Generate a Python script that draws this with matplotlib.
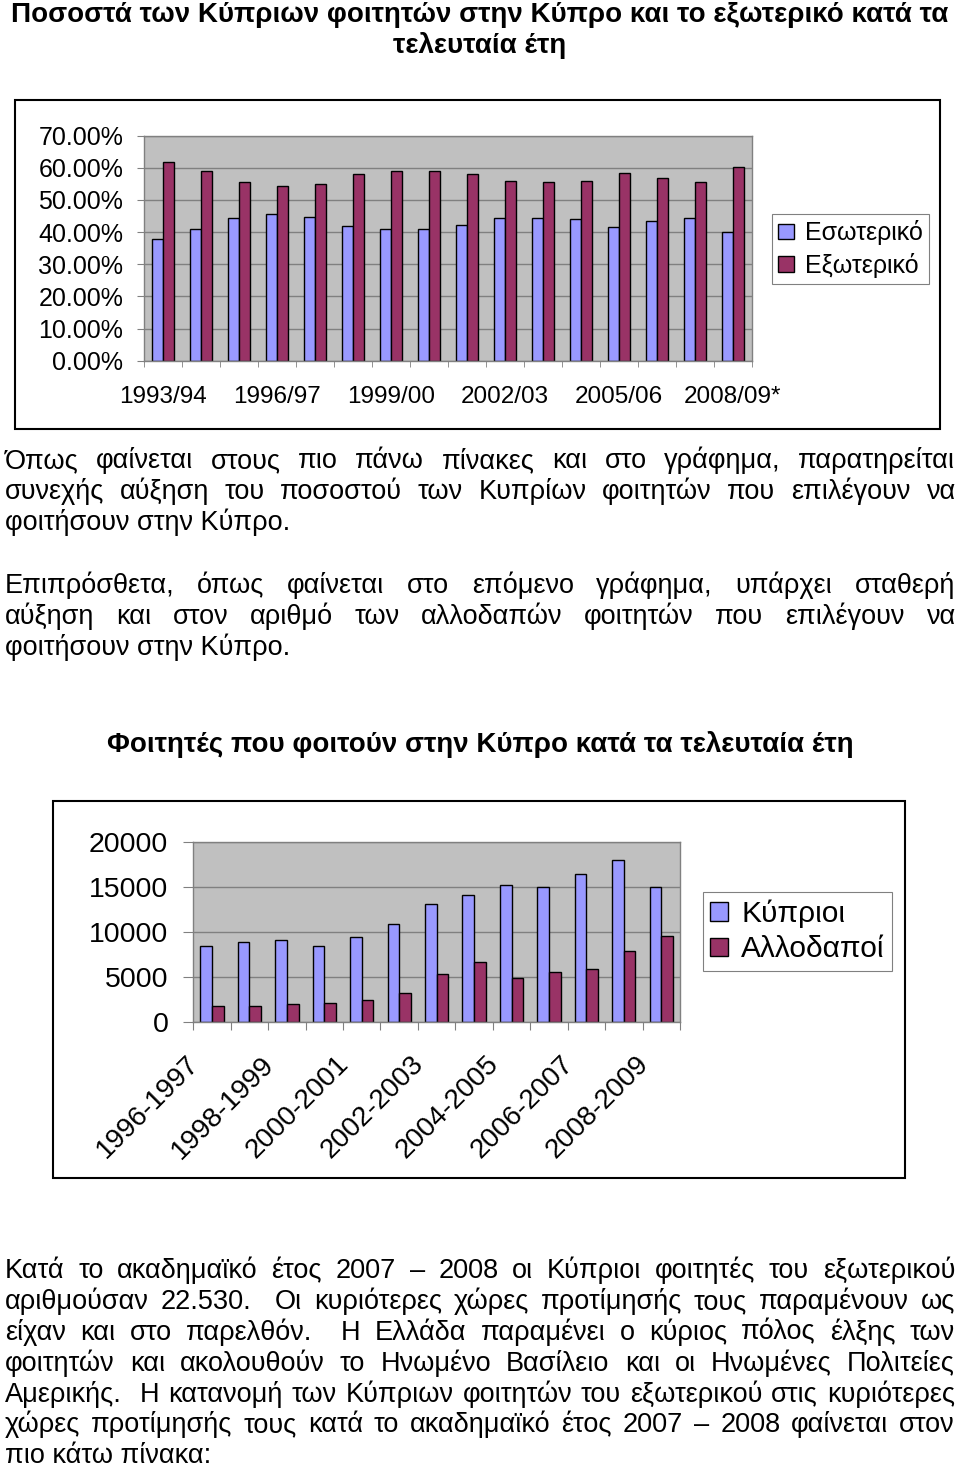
import numpy as np
import matplotlib
matplotlib.use('Agg')
import matplotlib.pyplot as plt
from matplotlib.patches import Rectangle
from matplotlib.ticker import PercentFormatter, MultipleLocator
from matplotlib.transforms import ScaledTranslation

plt.rcParams['font.family'] = ['Liberation Sans', 'DejaVu Sans']

W, H = 960, 1471

# chart 1: share of Cypriot students studying in Cyprus / abroad (%)
years_pct = ['1993/94', '1994/95', '1995/96', '1996/97', '1997/98', '1998/99',
             '1999/00', '2000/01', '2001/02', '2002/03', '2003/04', '2004/05',
             '2005/06', '2006/07', '2007/08', '2008/09*']
domestic = [38.0, 41.0, 44.4, 45.6, 44.8, 41.9, 41.0, 41.0,
            42.3, 44.4, 44.4, 44.0, 41.5, 43.6, 44.4, 40.0]
abroad = [61.9, 58.9, 55.6, 54.2, 55.1, 58.1, 58.9, 58.9,
          58.1, 56.0, 55.6, 56.0, 58.5, 56.7, 55.6, 60.3]

# chart 2: students studying in Cyprus
years_stud = ['1996-1997', '1997-1998', '1998-1999', '1999-2000', '2000-2001',
              '2001-2002', '2002-2003', '2003-2004', '2004-2005', '2005-2006',
              '2006-2007', '2007-2008', '2008-2009']
cypriots = [8450, 8930, 9080, 8450, 9480, 10850, 13100, 14100,
            15170, 15020, 16380, 17930, 15020]
foreigners = [1810, 1810, 1990, 2180, 2510, 3210, 5310, 6640,
              4910, 5610, 5940, 7900, 9590]

title1 = ['Ποσοστά των Κύπριων φοιτητών στην Κύπρο και το εξωτερικό κατά τα',
          'τελευταία έτη']
title2 = 'Φοιτητές που φοιτούν στην Κύπρο κατά τα τελευταία έτη'

para1 = ['Όπως φαίνεται στους πιο πάνω πίνακες και στο γράφημα, παρατηρείται',
         'συνεχής αύξηση του ποσοστού των Κυπρίων φοιτητών που επιλέγουν να',
         'φοιτήσουν στην Κύπρο.']
para2 = ['Επιπρόσθετα, όπως φαίνεται στο επόμενο γράφημα, υπάρχει σταθερή',
         'αύξηση και στον αριθμό των αλλοδαπών φοιτητών που επιλέγουν να',
         'φοιτήσουν στην Κύπρο.']
para3 = ['Κατά το ακαδημαϊκό έτος 2007 – 2008 οι Κύπριοι φοιτητές του εξωτερικού',
         'αριθμούσαν 22.530.  Οι κυριότερες χώρες προτίμησής τους παραμένουν ως',
         'είχαν και στο παρελθόν.  Η Ελλάδα παραμένει ο κύριος πόλος έλξης των',
         'φοιτητών και ακολουθούν το Ηνωμένο Βασίλειο και οι Ηνωμένες Πολιτείες',
         'Αμερικής.  Η κατανομή των Κύπριων φοιτητών του εξωτερικού στις κυριότερες',
         'χώρες προτίμησής τους κατά το ακαδημαϊκό έτος 2007 – 2008 φαίνεται στον',
         'πιο κάτω πίνακα:']

BLUE = '#9999FF'
PLUM = '#993366'
PLOT_BG = '#C0C0C0'
GRID = '#808080'

fig = plt.figure(figsize=(W / 100, H / 100), dpi=100)
page = fig.add_axes([0, 0, 1, 1])
page.set_xlim(0, W)
page.set_ylim(H, 0)
page.axis('off')
renderer = fig.canvas.get_renderer()


def text_width(s, size, weight='normal'):
    t = page.text(0, 0, s, fontsize=size, fontweight=weight)
    w = t.get_window_extent(renderer).width
    t.remove()
    return w


def fit_size(s, target, weight='normal'):
    return 16 * target / text_width(s, 16, weight)


body = fit_size('φοιτήσουν στην Κύπρο.', 285)
longest = max(para1 + para2 + para3, key=lambda s: text_width(s, body))
body = min(body, body * 948 / text_width(longest, body))


def paragraph(lines, y0, step=31.2, x0=5, x1=955):
    for k, line in enumerate(lines):
        y = y0 + k * step
        if k == len(lines) - 1:
            page.text(x0, y, line, fontsize=body, va='baseline')
            continue
        words = line.split(' ')
        widths = [text_width(w, body) if w else 0 for w in words]
        gap = (x1 - x0 - sum(widths)) / (len(words) - 1)
        x = x0
        for w, wd in zip(words, widths):
            if w:
                page.text(x, y, w, fontsize=body, va='baseline')
            x += wd + gap


tsize = fit_size(title1[0], 935, 'bold')
page.text(W / 2, 22, title1[0], fontsize=tsize, fontweight='bold', ha='center', va='baseline')
page.text(W / 2, 53, title1[1], fontsize=tsize, fontweight='bold', ha='center', va='baseline')
page.text(W / 2, 752, title2, fontsize=fit_size(title2, 744, 'bold'),
          fontweight='bold', ha='center', va='baseline')

paragraph(para1, 468)
paragraph(para2, 593)
paragraph(para3, 1278, step=30.9)

page.add_patch(Rectangle((15, 100), 925, 329, fill=False, ec='black', lw=1.5))
page.add_patch(Rectangle((53, 801), 852, 377, fill=False, ec='black', lw=1.5))


def px_axes(l, t, r, b):
    return fig.add_axes([l / W, 1 - b / H, (r - l) / W, (b - t) / H])


def style(ax):
    ax.set_facecolor(PLOT_BG)
    ax.grid(axis='y', color=GRID, lw=1)
    ax.set_axisbelow(True)
    for s in ax.spines.values():
        s.set_color(GRID)
        s.set_linewidth(1)


# ---- chart 1
ax1 = px_axes(144, 135.7, 751.7, 360.7)
x1 = np.arange(len(years_pct))
bw = 0.29
ax1.bar(x1 - bw / 2, domestic, bw, color=BLUE, edgecolor='black', lw=1, label='Εσωτερικό')
ax1.bar(x1 + bw / 2, abroad, bw, color=PLUM, edgecolor='black', lw=1, label='Εξωτερικό')
style(ax1)
ax1.set_xlim(-0.5, len(x1) - 0.5)
ax1.set_ylim(0, 70)
ax1.yaxis.set_major_locator(MultipleLocator(10))
ax1.yaxis.set_major_formatter(PercentFormatter(decimals=2))
ax1.tick_params(axis='y', length=5, color=GRID, labelsize=18, pad=10)
ax1.set_xticks(x1[::3], [years_pct[i] for i in x1[::3]])
ax1.set_xticks(np.arange(-0.5, len(x1)), minor=True)
ax1.tick_params(axis='x', which='major', length=0, labelsize=17.5, pad=18.5)
ax1.tick_params(axis='x', which='minor', length=4.5, color=GRID)
leg1 = ax1.legend(loc='upper left', bbox_to_anchor=(772 / W, 1 - 214 / H),
                  bbox_transform=fig.transFigure, fontsize=18, fancybox=False,
                  edgecolor=GRID, framealpha=1, borderpad=0.25, handlelength=0.62,
                  handleheight=0.58, handletextpad=0.45, labelspacing=0.3,
                  borderaxespad=0)
leg1.get_frame().set_linewidth(0.8)

# ---- chart 2
ax2 = px_axes(193.3, 841.7, 680, 1022.3)
x2 = np.arange(len(years_stud))
bw = 0.31
ax2.bar(x2 - bw / 2, cypriots, bw, color=BLUE, edgecolor='black', lw=1, label='Κύπριοι')
ax2.bar(x2 + bw / 2, foreigners, bw, color=PLUM, edgecolor='black', lw=1, label='Αλλοδαποί')
style(ax2)
ax2.set_xlim(-0.5, len(x2) - 0.5)
ax2.set_ylim(0, 20000)
ax2.yaxis.set_major_locator(MultipleLocator(5000))
ax2.tick_params(axis='y', length=7, color=GRID, labelsize=20.5, pad=11)
ax2.set_xticks(np.arange(-0.5, len(x2)))
ax2.set_xticklabels([])
ax2.tick_params(axis='x', length=5.5, color=GRID)
off = ScaledTranslation(-26 / 100, -29 / 100, fig.dpi_scale_trans)
for i in x2[::2]:
    ax2.text(i, 0, years_stud[i], transform=ax2.get_xaxis_transform() + off,
             rotation=45, rotation_mode='anchor', ha='right', va='top', fontsize=20)
leg2 = ax2.legend(loc='upper left', bbox_to_anchor=(703 / W, 1 - 892 / H),
                  bbox_transform=fig.transFigure, fontsize=21.5, fancybox=False,
                  edgecolor=GRID, framealpha=1, borderpad=0.25, handlelength=0.58,
                  handleheight=0.58, handletextpad=0.45, labelspacing=0.25,
                  borderaxespad=0)
leg2.get_frame().set_linewidth(0.8)

fig.savefig('out.png', dpi=100)
